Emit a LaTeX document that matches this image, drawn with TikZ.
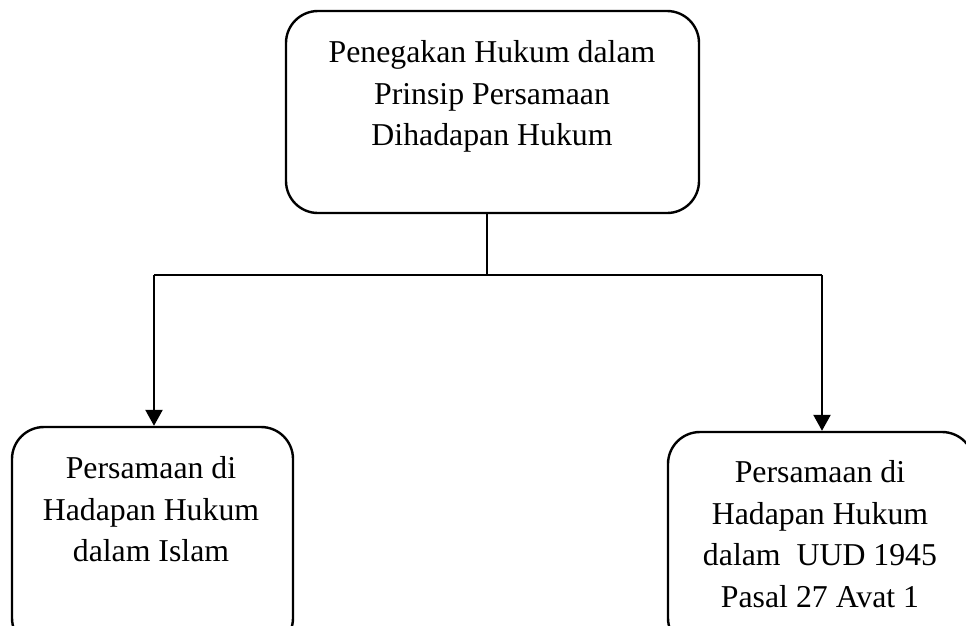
\documentclass[tikz,border=0pt]{standalone}
\usepackage{fontspec}
\setmainfont{Liberation Serif}
\usetikzlibrary{arrows.meta}
\begin{document}
\begin{tikzpicture}[x=1pt,y=-1pt,
  box/.style={draw=black, line width=2.4pt, rounded corners=32pt, inner sep=0pt},
  txt/.style={align=center, inner sep=0pt, anchor=north, font=\fontsize{31.8}{41.5}\selectfont},
  link/.style={draw=black, line width=2.4pt},
  arr/.style={link, -{Triangle[width=17pt,length=16pt]}}]
\useasboundingbox (0,0) rectangle (966,625);
% boxes
\node[box, minimum width=413pt, minimum height=202pt] (top) at (492.5,112) {};
\node[box, minimum width=281pt, minimum height=223pt] (left) at (152.5,538.5) {};
\node[box, minimum width=306pt, minimum height=218pt] (right) at (821,541) {};
% texts
\node[txt] (toptext) at (492,40.4) {Penegakan Hukum dalam\\Prinsip Persamaan\\Dihadapan Hukum};
\node[txt] (lefttext) at (151,456.4) {Persamaan di\\Hadapan Hukum\\dalam Islam};
\node[txt] (righttext) at (820,460.4) {Persamaan di\\Hadapan Hukum\\dalam\ \ UUD 1945\\Pasal 27 Avat 1};
% connectors
\coordinate (ts) at (487,213);
\coordinate (junction) at (487,275);
\coordinate (jl) at (154,275);
\coordinate (jr) at (822,275);
\draw[link] (ts) -- (junction);
\draw[link] (jl) -- (jr);
\draw[arr] (jl) -- (jl |- left.north);
\draw[arr] (jr) -- (jr |- right.north);
\end{tikzpicture}
\end{document}
